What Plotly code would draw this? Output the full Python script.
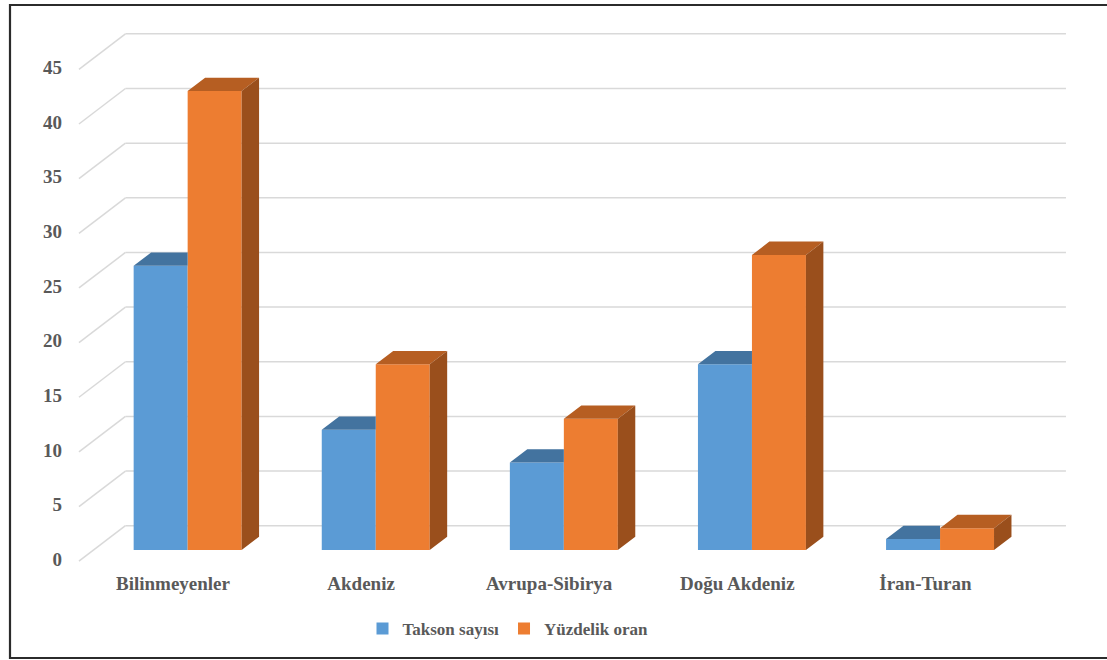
import plotly.graph_objects as go

# ---------------- data ----------------
CATEGORIES = ["Bilinmeyenler", "Akdeniz", "Avrupa-Sibirya", "Doğu Akdeniz", "İran-Turan"]
TAKSON_SAYISI = [26, 11, 8, 17, 1]
YUZDELIK_ORAN = [42, 17, 12, 27, 2]
TICK_VALUES = [0, 5, 10, 15, 20, 25, 30, 35, 40, 45]
SERIES_NAMES = ["Takson sayısı", "Yüzdelik oran"]

# ---------------- geometry / style ----------------
W_PX, H_PX = 1107, 660
PX_PER_CAT = 188.1
PX_PER_VAL = 10.93
ORIGIN_X_PX = 219.5
ORIGIN_Y_PX = 525.7
DX = -46.5 / PX_PER_CAT          # horizontal shift per unit depth (back -> front)
DY = -35.5 / PX_PER_VAL          # vertical shift per unit depth
BAR_W = 0.287
D_FRONT = 0.685
D_BACK = 0.31

FONT = "'Times New Roman', 'Liberation Serif', 'DejaVu Serif', serif"
TEXT_COLOR = "#595959"
GRID_COLOR = "#D9D9D9"
FRONT_COLORS = ["#5B9BD5", "#ED7D31"]
TOP_COLORS = ["#43739F", "#B65E22"]
SIDE_COLORS = ["#3A6690", "#9A4F1C"]

x_range = [(0 - ORIGIN_X_PX) / PX_PER_CAT, (W_PX - ORIGIN_X_PX) / PX_PER_CAT]
y_range = [(ORIGIN_Y_PX - H_PX) / PX_PER_VAL, ORIGIN_Y_PX / PX_PER_VAL]

n = len(CATEGORIES)
x_left_wall = -0.5
x_right_wall = n - 0.5


def proj(x, v, d):
    return x + DX * d, v + DY * d


fig = go.Figure()

# gridlines: back wall + side wall (below everything)
shapes = []
for v in TICK_VALUES:
    shapes.append(dict(type="line", xref="x", yref="y", layer="below",
                       x0=x_left_wall, y0=v, x1=x_right_wall, y1=v,
                       line=dict(color=GRID_COLOR, width=1.5)))
    fx, fy = proj(x_left_wall, v, 1.0)
    shapes.append(dict(type="line", xref="x", yref="y", layer="below",
                       x0=x_left_wall, y0=v, x1=fx, y1=fy,
                       line=dict(color=GRID_COLOR, width=1.5)))

# border frame
shapes.append(dict(type="rect", xref="paper", yref="paper", layer="above",
                   x0=10 / W_PX, x1=1.02, y0=1 - 658 / H_PX, y1=1 - 5 / H_PX,
                   line=dict(color="#2B2B2B", width=2.2), fillcolor="rgba(0,0,0,0)"))

series = [TAKSON_SAYISI, YUZDELIK_ORAN]
offsets = [-BAR_W, 0.0]

# front faces as bars
for s, vals in enumerate(series):
    fig.add_trace(go.Bar(
        x=[i + DX * D_FRONT for i in range(n)],
        y=vals,
        base=DY * D_FRONT,
        width=BAR_W,
        offset=offsets[s],
        name=SERIES_NAMES[s],
        marker=dict(color=FRONT_COLORS[s], line=dict(width=0)),
        hoverinfo="skip",
    ))

# top and side faces
for s, vals in enumerate(series):
    tx, ty, sx, sy = [], [], [], []
    for i, v in enumerate(vals):
        xl = i + offsets[s]
        xr = xl + BAR_W
        p1 = proj(xl, v, D_FRONT)
        p2 = proj(xr, v, D_FRONT)
        p4 = proj(xl, v, D_BACK)
        if s == 0:
            # clipped by the neighbouring (taller) orange front face
            p3 = (xr + DX * D_FRONT, v + DY * D_BACK)
        else:
            p3 = proj(xr, v, D_BACK)
        for p in (p1, p2, p3, p4, p1):
            tx.append(p[0]); ty.append(p[1])
        tx.append(None); ty.append(None)
        if s == 1:
            q1 = proj(xr, 0, D_FRONT)
            q2 = proj(xr, v, D_FRONT)
            q3 = proj(xr, v, D_BACK)
            q4 = proj(xr, 0, D_BACK)
            for p in (q1, q2, q3, q4, q1):
                sx.append(p[0]); sy.append(p[1])
            sx.append(None); sy.append(None)
    fig.add_trace(go.Scatter(x=tx, y=ty, mode="lines", fill="toself",
                             fillcolor=TOP_COLORS[s], line=dict(width=0, color=TOP_COLORS[s]),
                             showlegend=False, hoverinfo="skip"))
    if sx:
        fig.add_trace(go.Scatter(x=sx, y=sy, mode="lines", fill="toself",
                                 fillcolor=SIDE_COLORS[s], line=dict(width=0, color=SIDE_COLORS[s]),
                                 showlegend=False, hoverinfo="skip"))

# value-axis tick labels
fig.add_trace(go.Scatter(
    x=[x_left_wall + DX - 17 / PX_PER_CAT] * len(TICK_VALUES),
    y=[v + DY for v in TICK_VALUES],
    mode="text", text=["<b>%d</b>" % v for v in TICK_VALUES], textposition="middle left",
    textfont=dict(family=FONT, size=19, color=TEXT_COLOR),
    showlegend=False, hoverinfo="skip"))

# category labels
fig.add_trace(go.Scatter(
    x=[i + DX for i in range(n)],
    y=[DY - 24 / PX_PER_VAL] * n,
    mode="text", text=["<b>%s</b>" % c for c in CATEGORIES], textposition="middle center",
    textfont=dict(family=FONT, size=19, color=TEXT_COLOR),
    showlegend=False, hoverinfo="skip"))

fig.update_layout(
    width=W_PX, height=H_PX,
    margin=dict(l=0, r=0, t=0, b=0),
    paper_bgcolor="white", plot_bgcolor="white",
    barmode="overlay",
    font=dict(family=FONT, color=TEXT_COLOR),
    xaxis=dict(visible=False, range=x_range, fixedrange=True),
    yaxis=dict(visible=False, range=y_range, fixedrange=True),
    shapes=shapes,
    showlegend=True,
    legend=dict(orientation="h", x=508 / W_PX, xanchor="center",
                y=1 - 629 / H_PX, yanchor="middle",
                font=dict(family=FONT, size=17, color=TEXT_COLOR, weight="bold"),
                itemwidth=30, traceorder="normal", bgcolor="rgba(0,0,0,0)"),
)

fig.write_html("out.html")
